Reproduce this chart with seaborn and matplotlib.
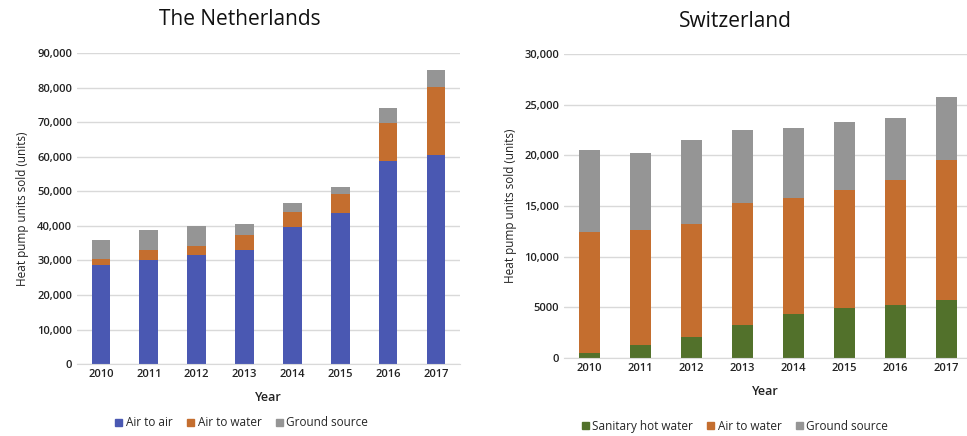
import matplotlib
matplotlib.use("Agg")
import matplotlib.pyplot as plt
import seaborn as sns
import numpy as np
import pandas as pd
from matplotlib.patches import Patch

years = ["2010", "2011", "2012", "2013", "2014", "2015", "2016", "2017"]

# The Netherlands
nl_air_to_air = [28700, 30000, 31450, 33000, 39700, 43700, 58800, 60400]
nl_air_to_water = [1800, 2900, 2700, 4400, 4200, 5400, 10900, 19700]
nl_ground = [5500, 5900, 5800, 3100, 2700, 2100, 4300, 4900]

# Switzerland
ch_sanitary = [530, 1280, 2100, 3250, 4300, 4930, 5230, 5760]
ch_air_to_water = [11870, 11320, 11120, 12050, 11520, 11680, 12340, 13780]
ch_ground = [8160, 7630, 8260, 7230, 6910, 6650, 6080, 6180]

nl_ticks = [0, 10000, 20000, 30000, 40000, 50000, 60000, 70000, 80000, 90000]
nl_ticklabels = ["0", "10,000", "20,000", "30,000", "40,000", "50,000", "60,000", "70,000", "80,000", "90,000"]
ch_ticks = [0, 5000, 10000, 15000, 20000, 25000, 30000]
ch_ticklabels = ["0", "5000", "10,000", "15,000", "20,000", "25,000", "30,000"]

BLUE = "#4A58B2"
ORANGE = "#C46E2F"
GRAY = "#959595"
GREEN = "#52712B"

sns.set_style("white")
plt.rcParams["font.family"] = ["Open Sans", "DejaVu Sans"]

fig = plt.figure(figsize=(9.67, 4.36), dpi=100)
ax1 = fig.add_axes([0.0796, 0.165, 0.396, 0.713])
ax2 = fig.add_axes([0.583, 0.179, 0.417, 0.697])


def stacked(ax, s1, s2, s3, colors, width):
    a = np.array(s1, dtype=float)
    b = a + np.array(s2, dtype=float)
    c = b + np.array(s3, dtype=float)
    for vals, col in zip([c, b, a], [colors[2], colors[1], colors[0]]):
        df = pd.DataFrame({"Year": years, "v": vals})
        sns.barplot(data=df, x="Year", y="v", color=col, width=width,
                    saturation=1, ax=ax, errorbar=None, edgecolor="none")


stacked(ax1, nl_air_to_air, nl_air_to_water, nl_ground, [BLUE, ORANGE, GRAY], 0.39)
stacked(ax2, ch_sanitary, ch_air_to_water, ch_ground, [GREEN, ORANGE, GRAY], 0.41)

for ax, ticks, labels, ymax in [(ax1, nl_ticks, nl_ticklabels, 90000),
                                (ax2, ch_ticks, ch_ticklabels, 30000)]:
    ax.set_ylim(0, ymax)
    ax.set_yticks(ticks)
    ax.set_yticklabels(labels)
    ax.grid(axis="y", color="#D9D9D9", linewidth=1)
    ax.set_axisbelow(True)
    for s in ["top", "right", "left"]:
        ax.spines[s].set_visible(False)
    ax.spines["bottom"].set_color("#D9D9D9")
    ax.tick_params(axis="both", length=0, labelsize=8, colors="#222222")
    for t in ax.get_xticklabels() + ax.get_yticklabels():
        t.set_fontweight("semibold")
    ax.set_ylabel("Heat pump units sold (units)", fontsize=8.5, color="#222222")
    ax.set_xlabel("Year", fontsize=9, fontweight="semibold", color="#222222", labelpad=8)

ax1.set_xlim(-0.5, 7.5)
ax2.set_xlim(-0.5, 7.4)
ax1.yaxis.labelpad = 6
ax2.yaxis.labelpad = 5

fig.text(0.248, 0.955, "The Netherlands", ha="center", va="center", fontsize=15, color="#111111")
fig.text(0.76, 0.95, "Switzerland", ha="center", va="center", fontsize=15, color="#111111")

h1 = [Patch(color=BLUE, label="Air to air"), Patch(color=ORANGE, label="Air to water"),
      Patch(color=GRAY, label="Ground source")]
fig.legend(handles=h1, loc="center", bbox_to_anchor=(0.25, 0.03), ncol=3, frameon=False,
           fontsize=8.5, handlelength=0.6, handleheight=0.6, handletextpad=0.3, columnspacing=1.2)
h2 = [Patch(color=GREEN, label="Sanitary hot water"), Patch(color=ORANGE, label="Air to water"),
      Patch(color=GRAY, label="Ground source")]
fig.legend(handles=h2, loc="center", bbox_to_anchor=(0.76, 0.022), ncol=3, frameon=False,
           fontsize=8.5, handlelength=0.6, handleheight=0.6, handletextpad=0.3, columnspacing=1.2,
           borderpad=0.2)

fig.savefig("out.png", dpi=100)
